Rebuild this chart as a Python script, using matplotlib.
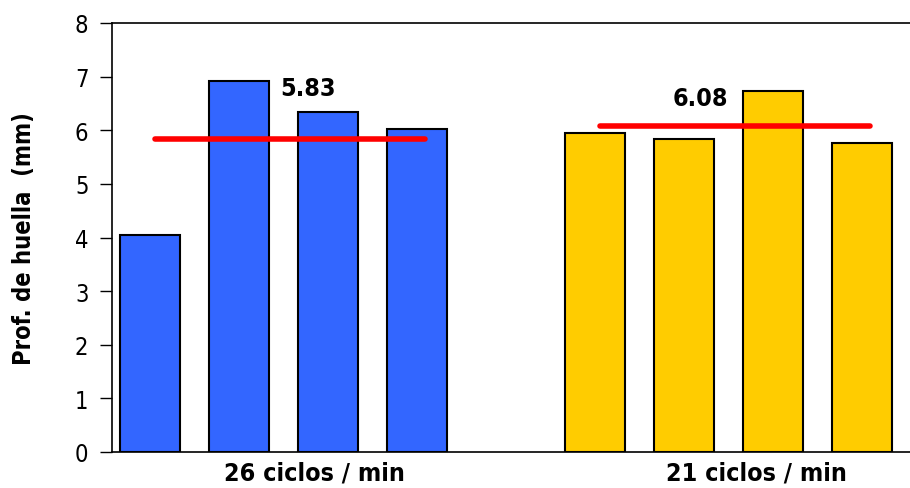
import numpy as np
import matplotlib.pyplot as plt

plt.rcParams['font.family'] = ['DejaVu Sans']
plt.rcParams['font.stretch'] = 'condensed'

groups = ['26 ciclos / min', '21 ciclos / min']
vals_26 = [4.05, 6.92, 6.34, 6.03]
vals_21 = [5.95, 5.84, 6.74, 5.77]
means = [5.83, 6.08]

blue = '#3366ff'
yellow = '#ffcc00'

x26 = np.arange(4)
x21 = np.arange(4) + 5

fig = plt.figure(figsize=(9.1, 4.89), dpi=100)
ax = fig.add_axes([112 / 910, 1 - 453 / 489, 1 - 112 / 910, (453 - 24) / 489])

ax.bar(x26, vals_26, width=0.674, color=blue, edgecolor='black', linewidth=1.5, zorder=2)
ax.bar(x21, vals_21, width=0.674, color=yellow, edgecolor='black', linewidth=1.5, zorder=2)

ax.plot([x26[0] + 0.06, x26[-1] + 0.09], [means[0]] * 2, color='#ff0000', lw=4,
        solid_capstyle='round', zorder=3)
ax.plot([x21[0] + 0.06, x21[-1] + 0.09], [means[1]] * 2, color='#ff0000', lw=4,
        solid_capstyle='round', zorder=3)

ax.text(1.78, 6.78, f'{means[0]:.2f}', fontsize=18, fontweight='semibold', ha='center', va='center')
ax.text(6.19, 6.6, f'{means[1]:.2f}', fontsize=18, fontweight='semibold', ha='center', va='center')

ax.set_xlim(-0.427, 8.54)
ax.set_ylim(0, 8)
ax.set_yticks(range(9))
ax.tick_params(axis='y', direction='out', length=9, width=1, labelsize=17, pad=8)
ax.set_xticks([1.85, 6.81])
ax.set_xticklabels(groups, fontsize=18, fontweight='semibold')
ax.tick_params(axis='x', length=0, pad=6)

ax.spines['right'].set_visible(False)
for s in ['left', 'top', 'bottom']:
    ax.spines[s].set_linewidth(1.2)

ax.set_ylabel('Prof. de huella  (mm)', fontsize=17, fontweight='semibold', labelpad=28)

fig.savefig('out.png', dpi=100)
